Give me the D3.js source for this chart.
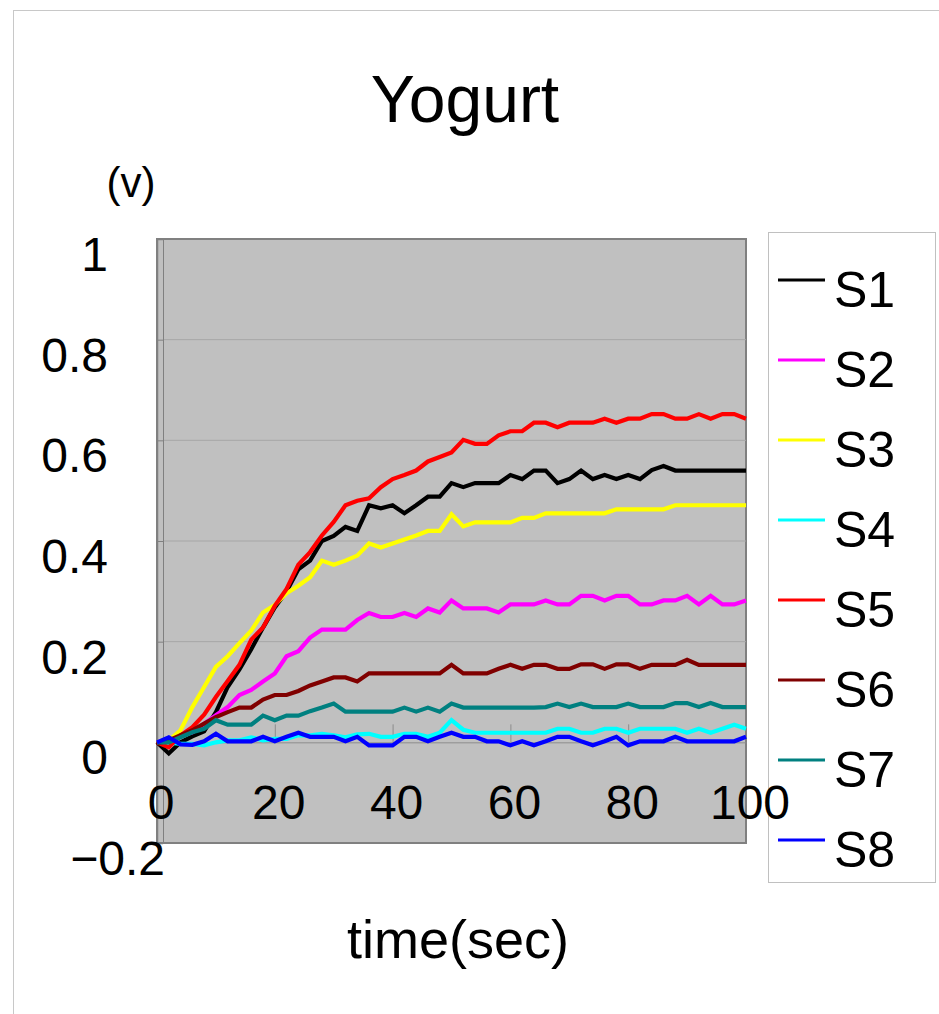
<!DOCTYPE html>
<html>
<head>
<meta charset="utf-8">
<script src="https://cdn.jsdelivr.net/npm/d3@7.9.0/dist/d3.min.js"></script>
<style>
  body { margin: 0; background: #fff; }
  svg { display: block; font-family: "Liberation Sans", Arial, sans-serif; }
</style>
</head>
<body>
<svg id="chart" width="939" height="1014"></svg>
<script>
const times = [0, 2, 4, 6, 8, 10, 12, 14, 16, 18, 20, 22, 24, 26, 28, 30, 32, 34, 36, 38, 40,
  42, 44, 46, 48, 50, 52, 54, 56, 58, 60, 62, 64, 66, 68, 70, 72, 74, 76, 78, 80,
  82, 84, 86, 88, 90, 92, 94, 96, 98, 100];

const s1 = [0, -0.022, 0, 0.012, 0.022, 0.06, 0.11, 0.145, 0.185, 0.228, 0.268, 0.3, 0.344, 0.361, 0.4, 0.41, 0.428, 0.42, 0.471, 0.465, 0.471,
  0.455, 0.471, 0.488, 0.488, 0.515, 0.507, 0.515, 0.515, 0.515, 0.531, 0.523, 0.54, 0.54, 0.515, 0.523, 0.54, 0.523, 0.531, 0.523, 0.531,
  0.523, 0.541, 0.549, 0.54, 0.54, 0.54, 0.54, 0.54, 0.54, 0.54];
const s2 = [0, 0.004, 0.014, 0.02, 0.037, 0.054, 0.07, 0.094, 0.104, 0.121, 0.137, 0.171, 0.181, 0.208, 0.224, 0.224, 0.224, 0.243, 0.257, 0.249, 0.249,
  0.257, 0.249, 0.266, 0.258, 0.282, 0.266, 0.266, 0.266, 0.258, 0.274, 0.274, 0.274, 0.282, 0.274, 0.274, 0.291, 0.291, 0.282, 0.291, 0.291,
  0.274, 0.274, 0.282, 0.282, 0.291, 0.274, 0.291, 0.274, 0.274, 0.282];
const s3 = [0, 0.004, 0.024, 0.07, 0.11, 0.15, 0.171, 0.197, 0.222, 0.258, 0.273, 0.296, 0.311, 0.328, 0.361, 0.353, 0.361, 0.371, 0.395, 0.387, 0.395,
  0.403, 0.411, 0.42, 0.42, 0.453, 0.429, 0.437, 0.437, 0.437, 0.437, 0.446, 0.446, 0.455, 0.455, 0.455, 0.455, 0.455, 0.455, 0.463, 0.463,
  0.463, 0.463, 0.463, 0.471, 0.471, 0.471, 0.471, 0.471, 0.471, 0.471];
const s4 = [0, 0, -0.003, -0.003, -0.006, 0, 0.004, 0.004, 0.01, 0.004, 0.007, 0.007, 0.014, 0.014, 0.017, 0.014, 0.01, 0.016, 0.017, 0.011, 0.011,
  0.017, 0.017, 0.011, 0.019, 0.044, 0.025, 0.019, 0.019, 0.019, 0.019, 0.019, 0.019, 0.019, 0.027, 0.027, 0.019, 0.019, 0.027, 0.027, 0.019,
  0.027, 0.027, 0.027, 0.027, 0.019, 0.027, 0.019, 0.027, 0.035, 0.027];
const s5 = [0, -0.01, 0.014, 0.03, 0.055, 0.09, 0.122, 0.154, 0.204, 0.228, 0.271, 0.305, 0.353, 0.378, 0.411, 0.438, 0.471, 0.48, 0.485, 0.507, 0.523,
  0.531, 0.54, 0.558, 0.567, 0.576, 0.601, 0.593, 0.593, 0.61, 0.618, 0.618, 0.635, 0.635, 0.626, 0.635, 0.635, 0.635, 0.643, 0.635, 0.643,
  0.643, 0.652, 0.652, 0.643, 0.643, 0.652, 0.643, 0.652, 0.652, 0.643];
const s6 = [-0.003, 0.004, 0.014, 0.024, 0.037, 0.05, 0.06, 0.069, 0.069, 0.085, 0.094, 0.094, 0.102, 0.113, 0.121, 0.129, 0.129, 0.121, 0.137, 0.137, 0.137,
  0.137, 0.137, 0.137, 0.137, 0.154, 0.137, 0.137, 0.137, 0.146, 0.154, 0.146, 0.154, 0.154, 0.146, 0.146, 0.155, 0.155, 0.146, 0.155, 0.155,
  0.146, 0.154, 0.154, 0.154, 0.164, 0.154, 0.154, 0.154, 0.154, 0.154];
const s7 = [0, 0, 0.01, 0.02, 0.027, 0.044, 0.035, 0.035, 0.035, 0.053, 0.044, 0.053, 0.053, 0.062, 0.069, 0.077, 0.061, 0.061, 0.061, 0.061, 0.061,
  0.069, 0.061, 0.069, 0.061, 0.077, 0.069, 0.069, 0.069, 0.069, 0.069, 0.069, 0.069, 0.07, 0.077, 0.07, 0.077, 0.07, 0.07, 0.07, 0.077,
  0.07, 0.07, 0.07, 0.078, 0.078, 0.07, 0.078, 0.07, 0.07, 0.07];
const s8 = [0, 0.01, -0.004, -0.005, 0.002, 0.017, 0.002, 0.002, 0.002, 0.011, 0.002, 0.011, 0.019, 0.011, 0.011, 0.011, 0.002, 0.011, -0.006, -0.006, -0.006,
  0.011, 0.011, 0.002, 0.011, 0.019, 0.011, 0.011, 0.002, 0.002, -0.006, 0.002, -0.006, 0.002, 0.011, 0.011, 0.002, -0.006, 0.002, 0.011, -0.006,
  0.002, 0.002, 0.002, 0.011, 0.002, 0.002, 0.002, 0.002, 0.002, 0.011];

const seriesNames = ['S1', 'S2', 'S3', 'S4', 'S5', 'S6', 'S7', 'S8'];
const seriesValues = [s1, s2, s3, s4, s5, s6, s7, s8];
const seriesColors = ['#000000', '#ff00ff', '#ffff00', '#00ffff', '#ff0000', '#800000', '#008080', '#0000ff'];

const xTicks = [0, 20, 40, 60, 80, 100];
const yTicks = [-0.2, 0, 0.2, 0.4, 0.6, 0.8, 1];
const yTickLabels = ['−0.2', '0', '0.2', '0.4', '0.6', '0.8', '1'];

const svg = d3.select('#chart');

// chart frame
svg.append('rect')
  .attr('x', 13.5).attr('y', 10.5)
  .attr('width', 1000).attr('height', 1100)
  .attr('fill', 'none').attr('stroke', '#c8c8c8');

const plotLeft = 157, plotRight = 746, plotTop = 239, plotBottom = 843;

let x = d3.scaleLinear().domain([0, 100]).range([plotLeft, plotRight]);
let y = d3.scaleLinear().domain([-0.2, 1]).range([plotBottom, plotTop]);

// plot area
svg.append('rect')
  .attr('x', plotLeft).attr('y', plotTop)
  .attr('width', plotRight - plotLeft).attr('height', plotBottom - plotTop)
  .attr('fill', '#c0c0c0')
  .attr('stroke', '#808080')
  .attr('stroke-width', 2);

// gridlines
svg.append('g')
  .selectAll('line')
  .data([0.2, 0.4, 0.6, 0.8])
  .enter()
  .append('line')
  .attr('x1', plotLeft + 6).attr('x2', plotRight)
  .attr('y1', (d) => y(d)).attr('y2', (d) => y(d))
  .attr('stroke', '#a6a6a6')
  .attr('stroke-width', 1);

// y axis: double line with ticks between
svg.append('line')
  .attr('x1', plotLeft + 6.5).attr('x2', plotLeft + 6.5)
  .attr('y1', plotTop).attr('y2', plotBottom)
  .attr('stroke', '#808080');

let yAxis = d3.axisRight(y).tickValues(yTicks).tickSize(6).tickFormat('');
svg.append('g')
  .attr('transform', `translate(${plotLeft},0)`)
  .call(yAxis)
  .call((g) => g.select('.domain').attr('stroke', '#808080').attr('stroke-width', 1.5))
  .call((g) => g.selectAll('.tick line').attr('stroke', '#808080'));

// x axis along zero
let xAxis = d3.axisTop(x).tickValues([20, 40, 60, 80]).tickSize(18).tickFormat('').tickSizeOuter(0);
svg.append('g')
  .attr('transform', `translate(0,${y(0)})`)
  .call(xAxis)
  .call((g) => g.select('.domain').attr('stroke', '#8c8c8c'))
  .call((g) => g.selectAll('.tick line').attr('stroke', '#8c8c8c'));

// series lines
let line = d3.line()
  .x((d, i) => x(times[i]))
  .y((d) => y(d));

svg.append('g')
  .selectAll('path')
  .data(seriesValues)
  .enter()
  .append('path')
  .attr('d', line)
  .attr('fill', 'none')
  .attr('stroke', (d, i) => seriesColors[i])
  .attr('stroke-width', 4.2)
  .attr('stroke-linejoin', 'miter');

// legend
const legend = svg.append('g');
legend.append('rect')
  .attr('x', 768.5).attr('y', 232.5)
  .attr('width', 167).attr('height', 650)
  .attr('fill', '#fff')
  .attr('stroke', '#c0c0c0');

seriesNames.forEach((name, idx) => {
  let ly = 280 + idx * 80;
  legend.append('line')
    .attr('x1', 778).attr('x2', 825)
    .attr('y1', ly).attr('y2', ly)
    .attr('stroke', seriesColors[idx])
    .attr('stroke-width', 3);
  legend.append('text')
    .attr('x', 834).attr('y', ly + 27)
    .attr('font-size', 50)
    .text(name);
});

// tick labels (drawn over the legend like the original)
svg.append('g')
  .selectAll('text')
  .data(xTicks)
  .enter()
  .append('text')
  .attr('x', (d) => x(d) + 4)
  .attr('y', 819)
  .attr('text-anchor', 'middle')
  .attr('font-size', 48)
  .text((d) => d);

svg.append('g')
  .selectAll('text')
  .data(yTicks)
  .enter()
  .append('text')
  .attr('x', (d) => (d < 0 ? 165 : 108))
  .attr('y', (d) => y(d) + 32)
  .attr('text-anchor', 'end')
  .attr('font-size', 48)
  .text((d, i) => yTickLabels[i]);

// titles
svg.append('text')
  .attr('x', 465).attr('y', 122)
  .attr('text-anchor', 'middle')
  .attr('font-size', 66)
  .text('Yogurt');

svg.append('text')
  .attr('x', 131).attr('y', 197)
  .attr('text-anchor', 'middle')
  .attr('font-size', 42)
  .text('(v)');

svg.append('text')
  .attr('x', 458).attr('y', 958)
  .attr('text-anchor', 'middle')
  .attr('font-size', 54)
  .text('time(sec)');
</script>
</body>
</html>
